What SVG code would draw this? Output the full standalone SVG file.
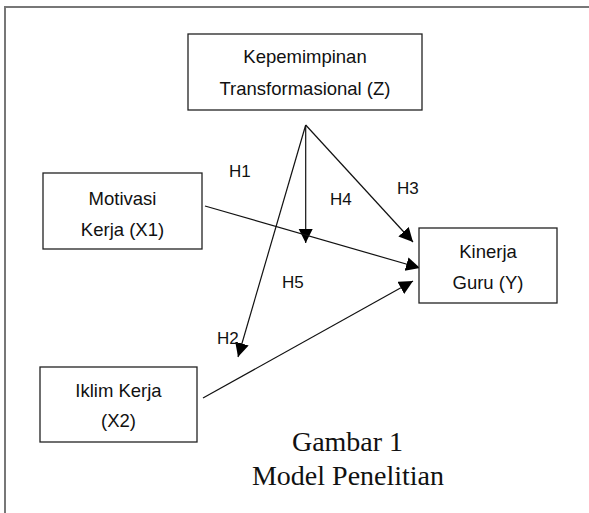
<svg xmlns="http://www.w3.org/2000/svg" width="589" height="513" viewBox="0 0 589 513">
<style>
.box{fill:#fff;stroke:#222;stroke-width:1.3}
.lbl{font-family:"Liberation Sans",Arial,sans-serif;font-size:18.5px;fill:#111;text-anchor:middle}
.h{font-family:"Liberation Sans",Arial,sans-serif;font-size:17px;fill:#111}
.cap{font-family:"Liberation Serif","Times New Roman",serif;font-size:28px;fill:#111;text-anchor:middle}
.con{stroke:#111;stroke-width:1.2;fill:none;marker-end:url(#arr)}
</style>
<defs>
<marker id="arr" markerUnits="userSpaceOnUse" markerWidth="15" markerHeight="15" refX="14" refY="7" orient="auto">
<path d="M0,0 L14,7 L0,14 Z" fill="#000"/>
</marker>
</defs>
<rect width="589" height="513" fill="#fff"/>
<g id="frame" fill="none" stroke="#777" stroke-width="2">
<path d="M5,513 L5,7 L589,7"/>
</g>
<g id="connectors">
<line class="con" x1="305.7" y1="125" x2="305.7" y2="243"/>
<line class="con" x1="305.7" y1="125" x2="413" y2="242"/>
<line class="con" x1="305.7" y1="125" x2="238" y2="357"/>
<line class="con" x1="205" y1="206" x2="420" y2="268"/>
<line class="con" x1="203" y1="398" x2="413" y2="281"/>
</g>
<g id="node-z">
<rect class="box" x="188" y="34" width="234" height="76"/>
<text class="lbl" x="305" y="63">Kepemimpinan</text>
<text class="lbl" x="305" y="95">Transformasional (Z)</text>
</g>
<g id="node-x1">
<rect class="box" x="43" y="173" width="159" height="76"/>
<text class="lbl" x="122.5" y="205">Motivasi</text>
<text class="lbl" x="122.5" y="236">Kerja (X1)</text>
</g>
<g id="node-x2">
<rect class="box" x="40" y="367" width="157" height="75"/>
<text class="lbl" x="118.5" y="397">Iklim Kerja</text>
<text class="lbl" x="118.5" y="427">(X2)</text>
</g>
<g id="node-y">
<rect class="box" x="419" y="228" width="138" height="75"/>
<text class="lbl" x="488" y="258">Kinerja</text>
<text class="lbl" x="488" y="289">Guru (Y)</text>
</g>
<g id="labels">
<text class="h" x="229" y="177">H1</text>
<text class="h" x="330" y="205">H4</text>
<text class="h" x="397" y="194">H3</text>
<text class="h" x="282" y="288">H5</text>
<text class="h" x="217" y="344">H2</text>
</g>
<g id="caption">
<text class="cap" x="347.5" y="451">Gambar 1</text>
<text class="cap" x="348" y="485">Model Penelitian</text>
</g>
</svg>
